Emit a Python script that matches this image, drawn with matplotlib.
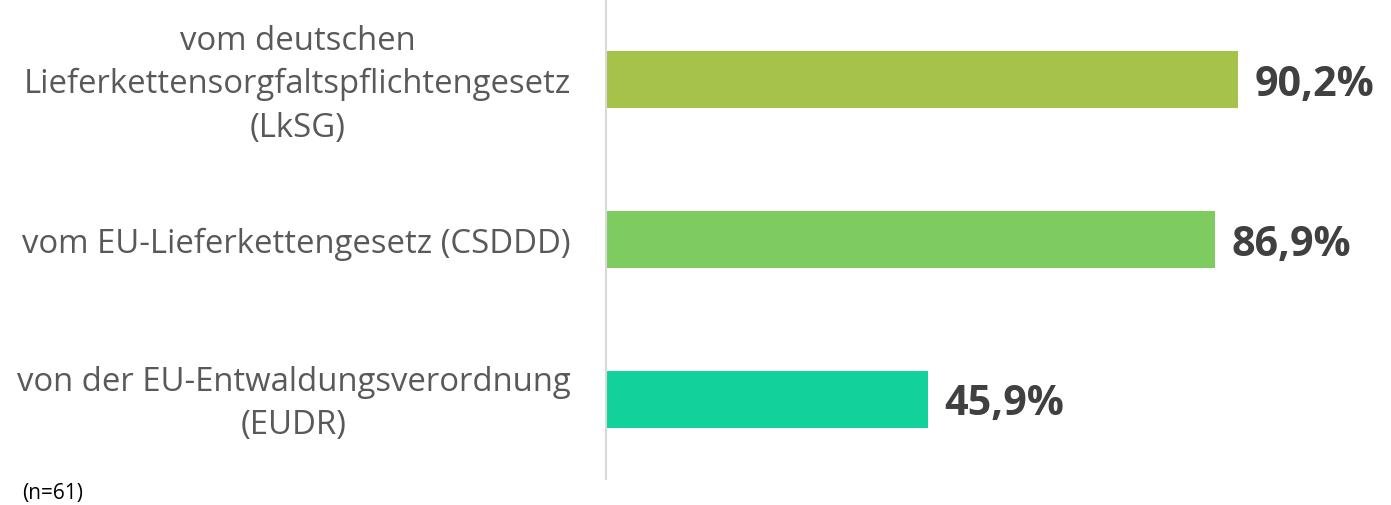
import matplotlib.pyplot as plt

# data
categories = ['vom deutschen\nLieferkettensorgfaltspflichtengesetz\n(LkSG)',
              'vom EU-Lieferkettengesetz (CSDDD)',
              'von der EU-Entwaldungsverordnung\n(EUDR)']
values = [90.2, 86.9, 45.9]
value_labels = ['90,2%', '86,9%', '45,9%']
colors = ['#A5C34A', '#7ECC60', '#12D19A']
note = '(n=61)'

plt.rcParams['font.family'] = ['Open Sans', 'DejaVu Sans']

fig = plt.figure(figsize=(13.91, 5.06), dpi=100)
ax = fig.add_axes([606 / 1391, 26 / 506, 785 / 1391, 479 / 506])

ypos = list(range(len(values)))
ax.barh(ypos, values, height=0.357, color=colors)
ax.set_xlim(0, 112)
ax.set_ylim(2.5, -0.5)

# value labels
for y, v, lab in zip(ypos, values, value_labels):
    ax.text(v + 2.4, y + 0.03, lab, va='center', ha='left', fontsize=29.7,
            fontweight='bold', color='#404040')

# category labels, centered block left of the axis
for y, cat in zip(ypos, categories):
    ax.text(-5.0, y + 0.025, cat, va='center', ha='right', multialignment='center',
            fontsize=23.7, color='#595959', linespacing=1.42,
            transform=ax.transData, clip_on=False)

ax.set_xticks([])
ax.set_yticks([])
for s in ['top', 'right', 'bottom']:
    ax.spines[s].set_visible(False)
ax.spines['left'].set_color('#D9D9D9')
ax.spines['left'].set_linewidth(1.5)

fig.text(22 / 1391, 1 - 494 / 506, note, ha='left', va='center', fontsize=15,
         color='#000000')

fig.savefig('out.png', dpi=100)
